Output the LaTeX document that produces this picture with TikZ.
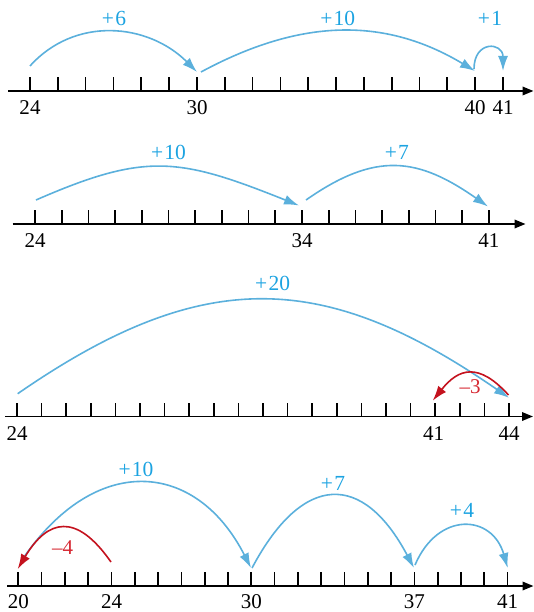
\documentclass[tikz,border=0pt]{standalone}
\usepackage{fontspec}
\setmainfont{Liberation Serif}
\usetikzlibrary{arrows.meta}
\definecolor{arcblue}{RGB}{91,176,220}
\definecolor{lblblue}{RGB}{28,163,225}
\definecolor{arcred}{RGB}{196,18,30}
\definecolor{lblred}{RGB}{214,40,50}
\newcommand{\pl}{+\kern1.2pt}
\tikzset{
  axisline/.style={line width=1.8pt, -{Triangle[length=11pt,width=8.5pt]}},
  tickmark/.style={line width=1.7pt},
  numlbl/.style={anchor=base, inner sep=0pt, font=\fontsize{21}{21}\selectfont},
  jumplbl/.style={anchor=base, inner sep=0pt, text=lblblue, font=\fontsize{21.5}{21.5}\selectfont},
  backlbl/.style={anchor=base, inner sep=0pt, text=lblred, font=\fontsize{21}{21}\selectfont},
  jump/.style={draw=arcblue, line width=1.6pt, -{Latex[length=15pt,width=10pt]}},
  backjump/.style={draw=arcred, line width=1.6pt, -{Latex[length=15pt,width=10pt]}},
}
\begin{document}
\begin{tikzpicture}[x=1pt,y=-1pt]
\useasboundingbox (0,0) rectangle (534,612);
% ---------------- line 1
\coordinate (l1s) at (8,91);
\coordinate (l1e) at (533.5,91);
\draw[axisline] (l1s) -- (l1e);
\foreach \n in {24,...,41} \draw[tickmark] ({30+(\n-24)*27.82},91) -- ++(0,-14);
\node[numlbl] (n1a) at (30,114.5) {24};
\node[numlbl] (n1b) at (197,114.5) {30};
\node[numlbl] (n1c) at (475,114.5) {40};
\node[numlbl] (n1d) at (503,114.5) {41};
\coordinate (a1s) at (30,66);
\coordinate (a1e) at (197,72);
\coordinate (a2s) at (201,72);
\coordinate (a2e) at (475,71);
\coordinate (a3s) at (474,69);
\coordinate (a3e) at (503,71);
\draw[jump] (a1s) .. controls +(45,-50) and +(-49,-49) .. (a1e);
\draw[jump] (a2s) .. controls +(100,-54) and +(-90,-54) .. (a2e);
\draw[jump] (a3s) .. controls +(0,-29) and +(0,-29) .. (a3e);
\node[jumplbl] (j1a) at (114,25.7) {\pl6};
\node[jumplbl] (j1b) at (337.8,25.7) {\pl10};
\node[jumplbl] (j1c) at (490,25.7) {\pl1};
% ---------------- line 2
\coordinate (l2s) at (12.6,224);
\coordinate (l2e) at (525.5,224);
\draw[axisline] (l2s) -- (l2e);
\foreach \n in {24,...,41} \draw[tickmark] ({35+(\n-24)*26.7},224) -- ++(0,-13.5);
\node[numlbl] (n2a) at (35,247.5) {24};
\node[numlbl] (n2b) at (302,247.5) {34};
\node[numlbl] (n2c) at (488.8,247.5) {41};
\coordinate (b1s) at (36,200);
\coordinate (b1e) at (299,205.5);
\coordinate (b2s) at (306,200);
\coordinate (b2e) at (488,206.5);
\draw[jump] (b1s) .. controls +(110,-48) and +(-120,-48) .. (b1e);
\draw[jump] (b2s) .. controls +(70,-49) and +(-70,-49) .. (b2e);
\node[jumplbl] (j2a) at (168.5,160) {\pl10};
\node[jumplbl] (j2b) at (396.8,160) {\pl7};
% ---------------- line 3
\coordinate (l3s) at (5,416.5);
\coordinate (l3e) at (533,416.5);
\draw[axisline] (l3s) -- (l3e);
\foreach \n in {24,...,44} \draw[tickmark] ({17+(\n-24)*24.6},416.5) -- ++(0,-14);
\node[numlbl] (n3a) at (17,440) {24};
\node[numlbl] (n3b) at (433.7,440) {41};
\node[numlbl] (n3c) at (509,440) {44};
\coordinate (c1s) at (17.7,393.7);
\coordinate (c1e) at (509,397.8);
\coordinate (c2s) at (508.5,395);
\coordinate (c2e) at (432.7,400.7);
\draw[jump] (c1s) .. controls +(185,-128) and +(-185,-128) .. (c1e);
\draw[backjump] (c2s) .. controls +(-30,-33) and +(26,-32.5) .. (c2e);
\node[jumplbl] (j3a) at (272.6,290.6) {\pl20};
\node[backlbl] (j3b) at (470,393.3) {–3};
% ---------------- line 4
\coordinate (l4s) at (7,586);
\coordinate (l4e) at (533.5,586);
\draw[axisline] (l4s) -- (l4e);
\foreach \n in {20,...,41} \draw[tickmark] ({18.3+(\n-20)*23.3},586) -- ++(0,-14);
\node[numlbl] (n4a) at (18.3,608.5) {20};
\node[numlbl] (n4b) at (111.5,608.5) {24};
\node[numlbl] (n4c) at (251.3,608.5) {30};
\node[numlbl] (n4d) at (414.4,608.5) {37};
\node[numlbl] (n4e) at (507.6,608.5) {41};
\coordinate (d1s) at (22,560);
\coordinate (d1e) at (251,568);
\coordinate (d2s) at (111,562);
\coordinate (d2e) at (17.7,569);
\coordinate (d3s) at (252,568);
\coordinate (d3e) at (414,568);
\coordinate (d4s) at (415,565);
\coordinate (d4e) at (507.7,568);
\draw[jump] (d1s) .. controls +(73,-108) and +(-55,-108) .. (d1e);
\draw[backjump] (d2s) .. controls +(-35,-50) and +(30,-50) .. (d2e);
\draw[jump] (d3s) .. controls +(51,-96) and +(-51,-96) .. (d3e);
\draw[jump] (d4s) .. controls +(23,-54) and +(-15.5,-54) .. (d4e);
\node[jumplbl] (j4a) at (136,476) {\pl10};
\node[backlbl] (j4b) at (62.5,554) {–4};
\node[jumplbl] (j4c) at (333,490) {\pl7};
\node[jumplbl] (j4d) at (462,517.3) {\pl4};
\end{tikzpicture}
\end{document}
